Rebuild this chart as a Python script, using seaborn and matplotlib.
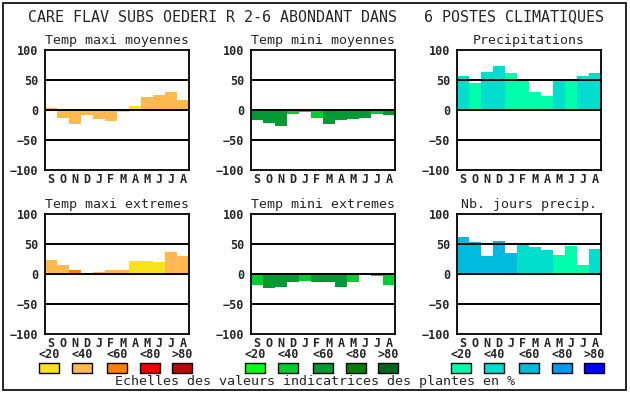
import pandas as pd
import matplotlib
matplotlib.use('Agg')
import matplotlib.pyplot as plt
from matplotlib.patches import Rectangle
import seaborn as sns

months = ['S', 'O', 'N', 'D', 'J', 'F', 'M', 'A', 'M', 'J', 'J', 'A']
titles = ['Temp maxi moyennes', 'Temp mini moyennes', 'Precipitations',
          'Temp maxi extremes', 'Temp mini extremes', 'Nb. jours precip.']

# values, class = index into the colour scale
tmax_moy = [3, -13, -24, -8, -15, -18, -4, 7, 22, 25, 30, 17]
tmax_moy_cls = [1, 1, 1, 1, 1, 1, 0, 0, 1, 1, 1, 1]
tmin_moy = [-17, -21, -26, -6, -4, -13, -23, -17, -15, -13, -6, -8]
tmin_moy_cls = [2, 2, 2, 1, 1, 1, 2, 2, 2, 2, 1, 2]
precip = [57, 45, 63, 73, 62, 49, 30, 23, 49, 52, 57, 62]
precip_cls = [1, 0, 1, 1, 0, 0, 0, 0, 1, 0, 1, 1]
tmax_ext = [23, 15, 7, 2, 4, 7, 7, 22, 22, 20, 37, 30]
tmax_ext_cls = [1, 1, 2, 1, 1, 1, 1, 0, 0, 0, 1, 1]
tmin_ext = [-18, -23, -21, -13, -11, -13, -14, -21, -13, 0, -4, -18]
tmin_ext_cls = [1, 2, 2, 2, 1, 2, 2, 2, 1, 1, 1, 1]
nb_jours = [62, 53, 30, 55, 35, 50, 45, 40, 32, 47, 15, 42]
nb_jours_cls = [2, 2, 2, 2, 2, 1, 1, 1, 0, 0, 0, 1]

warm = ['#F8E21C', '#FFB94F', '#FF8000', '#EE0000', '#B01000']
green = ['#00FF1A', '#00CC33', '#009933', '#008000', '#006622']
blue = ['#00FFAA', '#00DDCC', '#00BBDD', '#0099EE', '#0000FF']
scale_labels = ['<20', '<40', '<60', '<80', '>80']

panels = [(tmax_moy, tmax_moy_cls, warm), (tmin_moy, tmin_moy_cls, green),
          (precip, precip_cls, blue), (tmax_ext, tmax_ext_cls, warm),
          (tmin_ext, tmin_ext_cls, green), (nb_jours, nb_jours_cls, blue)]

sns.set_style('white')
plt.rcParams['font.family'] = ['DejaVu Sans Mono']

W, H = 630, 394
fig = plt.figure(figsize=(W / 100, H / 100), dpi=100)

lefts = [45, 251, 457]
tops = [50, 214]
aw, ah = 144, 120

for k, (vals, cls, pal) in enumerate(panels):
    col, row = k % 3, k // 3
    ax = fig.add_axes([lefts[col] / W, 1 - (tops[row] + ah) / H, aw / W, ah / H])
    df = pd.DataFrame({'pos': [str(i) for i in range(12)], 'val': vals})
    colors = {str(i): pal[c] for i, c in enumerate(cls)}
    sns.barplot(data=df, x='pos', y='val', hue='pos', palette=colors, width=1,
                saturation=1, legend=False, ax=ax, linewidth=0, zorder=1)
    for yv in (-50, 0, 50):
        ax.axhline(yv, color='black', lw=1.4, zorder=3)
    ax.set_xlim(-0.5, 11.5)
    ax.set_ylim(-100, 100)
    ax.set_yticks([-100, -50, 0, 50, 100])
    ax.set_xticks(range(12))
    ax.set_xticklabels(months)
    ax.set_xlabel('')
    ax.set_ylabel('')
    ax.tick_params(length=0, labelsize=8.5, pad=2)
    ax.tick_params(axis='y', pad=5)
    for lab in ax.get_xticklabels() + ax.get_yticklabels():
        lab.set_fontweight('bold')
    for s in ax.spines.values():
        s.set_color('black')
        s.set_linewidth(1.3)
    ax.set_title(titles[k], fontsize=9.5, pad=4)

# colour scales under the bottom row
offsets = [0, 33, 68, 101, 133]
for col, pal in enumerate([warm, green, blue]):
    x0 = lefts[col] - 6
    for off, c, lab in zip(offsets, pal, scale_labels):
        fig.add_artist(Rectangle(((x0 + off) / W, 1 - 373 / H), 20 / W, 10 / H,
                                 transform=fig.transFigure, facecolor=c,
                                 edgecolor='black', lw=1))
        fig.text((x0 + off + 10) / W, 1 - 355 / H, lab, ha='center', va='center',
                 fontsize=8.5, fontweight='bold')

fig.text(315 / W, 1 - 382 / H, 'Echelles des valeurs indicatrices des plantes en %',
         ha='center', va='center', fontsize=9.6)
fig.text(316 / W, 1 - 17 / H,
         'CARE FLAV SUBS OEDERI R 2-6 ABONDANT DANS   6 POSTES CLIMATIQUES',
         ha='center', va='center', fontsize=10.8)

fig.add_artist(Rectangle((3 / W, 1 - 390 / H), 623 / W, 387 / H,
                         transform=fig.transFigure, fill=False,
                         edgecolor='black', lw=1.2))

fig.savefig('out.png', dpi=100)
